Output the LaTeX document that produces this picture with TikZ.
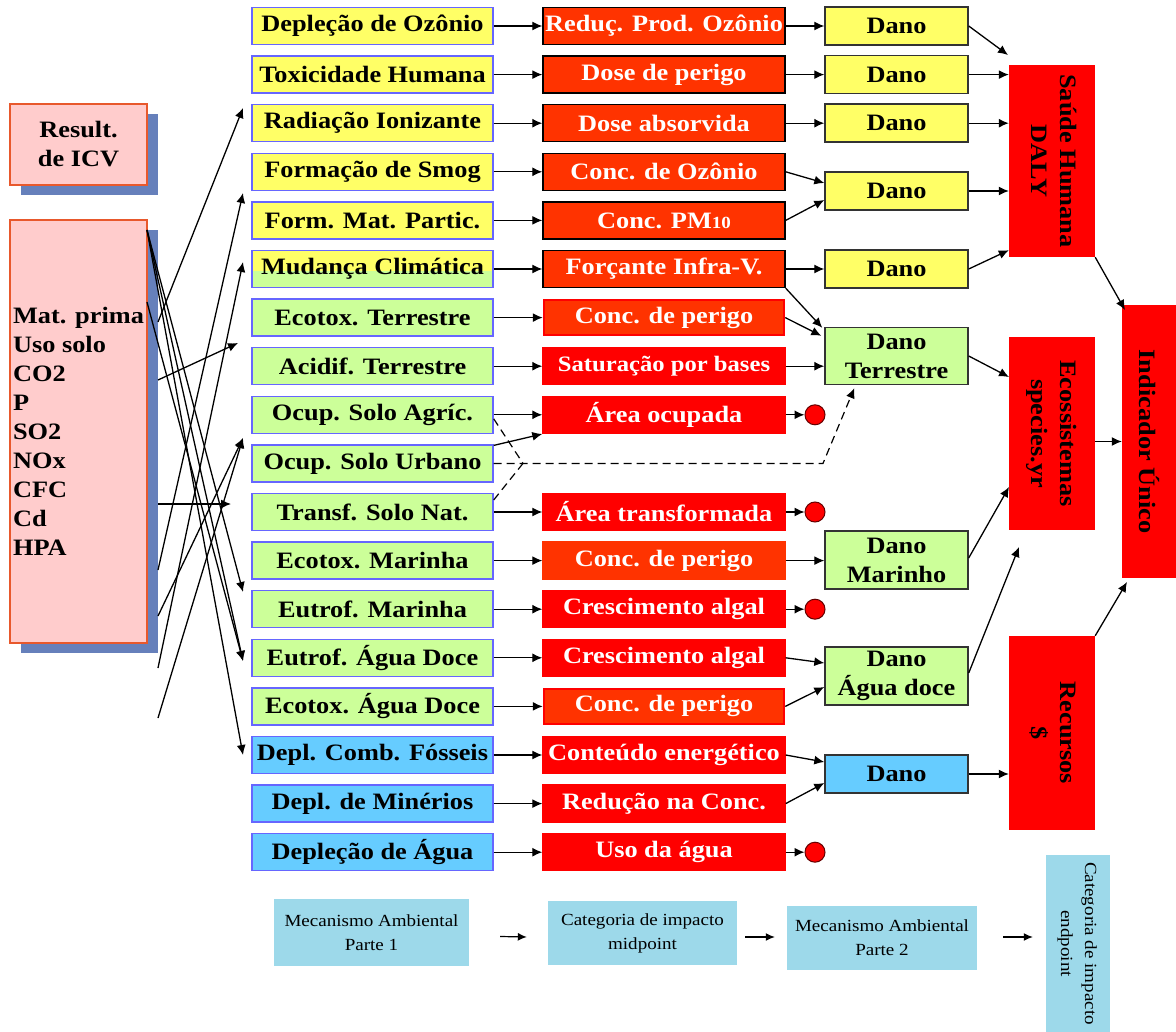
\documentclass[tikz,border=0pt]{standalone}
\usepackage{fontspec}
\setmainfont{Liberation Serif}[FakeStretch=1.12]
\usetikzlibrary{arrows.meta,calc,shadows}
\definecolor{yel}{HTML}{FFFF66}
\definecolor{grn}{HTML}{CCFF99}
\definecolor{blu}{HTML}{66CCFF}
\definecolor{bord}{HTML}{6666FF}
\definecolor{ored}{HTML}{FF3300}
\definecolor{pinkf}{HTML}{FFCCCC}
\definecolor{pinkb}{HTML}{E8582C}
\definecolor{shad}{HTML}{6680BB}
\definecolor{legc}{HTML}{9DD9EA}
\definecolor{dk}{HTML}{333333}
\begin{document}
\begin{tikzpicture}[x=1pt,y=-1pt,
  every node/.style={inner sep=0pt, font=\fontsize{23.5}{29}\selectfont\bfseries},
  cat/.style={draw=bord, line width=1.4pt, minimum width=241pt, minimum height=37pt},
  redA/.style={fill=ored, draw=black, line width=1.4pt, minimum width=242pt, minimum height=37pt, text=white},
  redB/.style={fill=red, draw=red, line width=1.4pt, minimum width=242pt, minimum height=37pt, text=white},
  redC/.style={fill=ored, draw=red, line width=2.5pt, minimum width=240pt, minimum height=35pt, text=white},
  redD/.style={fill=ored, draw=ored, line width=1.4pt, minimum width=242pt, minimum height=37pt, text=white},
  dano/.style={draw=dk, line width=1.4pt, minimum width=143pt, minimum height=38pt, align=center},
  big/.style={fill=red, minimum width=86pt},
  dot/.style={circle, fill=red, draw=black!60!red, line width=1pt, minimum size=20pt},
  leg/.style={fill=legc, align=center, font=\fontsize{17}{24}\selectfont\mdseries},
  arr/.style={-{Latex[length=10pt,width=9pt]}, line width=1.3pt},
  larr/.style={-{Latex[length=9pt,width=8pt]}, line width=1.2pt},
  dsh/.style={dash pattern=on 8pt off 5pt, line width=1.2pt},
  pinkbox/.style={draw=pinkb, fill=pinkf, line width=1.4pt, minimum width=137pt,
     drop shadow={fill=shad, opacity=1, shadow xshift=11pt, shadow yshift=-10pt}}
]
\useasboundingbox (0,0) rectangle (1176,1032);

% left boxes
\node[pinkbox, minimum height=81pt, align=center, font=\fontsize{23.5}{29}\selectfont\bfseries] (res) at (78.5,144.5) {Result.\\de ICV};
\node[pinkbox, minimum height=423pt, align=left, font=\fontsize{23.5}{29}\selectfont\bfseries] (mp) at (78.5,431.5) {Mat. prima\\Uso solo\\CO2\\P\\SO2\\NOx\\CFC\\Cd\\HPA};

% impact categories
\node[cat,fill=yel] (c0) at (372.5,26) {Depleção de Ozônio};
\node[cat,fill=yel] (c1) at (372.5,74.6) {Toxicidade Humana};
\node[cat,fill=yel] (c2) at (372.5,123.2) {Radiação Ionizante};
\node[cat,fill=yel] (c3) at (372.5,171.8) {Formação de Smog};
\node[cat,fill=yel] (c4) at (372.5,220.4) {Form. Mat. Partic.};
\node[cat,fill=grn,path picture={\fill[yel] (path picture bounding box.north west) rectangle ([yshift=-21pt]path picture bounding box.north east);}] (c5) at (372.5,269) {Mudança Climática};
\node[cat,fill=grn] (c6) at (372.5,317.6) {Ecotox. Terrestre};
\node[cat,fill=grn] (c7) at (372.5,366.2) {Acidif. Terrestre};
\node[cat,fill=grn] (c8) at (372.5,414.8) {Ocup. Solo Agríc.};
\node[cat,fill=grn] (c9) at (372.5,463.4) {Ocup. Solo Urbano};
\node[cat,fill=grn] (c10) at (372.5,512) {Transf. Solo Nat.};
\node[cat,fill=grn] (c11) at (372.5,560.6) {Ecotox. Marinha};
\node[cat,fill=grn] (c12) at (372.5,609.2) {Eutrof. Marinha};
\node[cat,fill=grn] (c13) at (372.5,657.8) {Eutrof. Água Doce};
\node[cat,fill=grn] (c14) at (372.5,706.4) {Ecotox. Água Doce};
\node[cat,fill=blu] (c15) at (372.5,755) {Depl. Comb. Fósseis};
\node[cat,fill=blu] (c16) at (372.5,803.6) {Depl. de Minérios};
\node[cat,fill=blu] (c17) at (372.5,852.2) {Depleção de Água};

% midpoint boxes
\node[redA] (r0) at (664,26) {Reduç. Prod. Ozônio};
\node[redA] (r1) at (664,74.6) {Dose de perigo};
\node[redA] (r2) at (664,123.2) {Dose absorvida};
\node[redA] (r3) at (664,171.8) {Conc. de Ozônio};
\node[redA] (r4) at (664,220.4) {Conc. PM{\fontsize{17}{18}\selectfont 10}};
\node[redA] (r5) at (664,269) {Forçante Infra-V.};
\node[redC] (r6) at (664,317.6) {Conc. de perigo};
\node[redB, font=\fontsize{22}{26}\selectfont\bfseries] (r7) at (664,366.2) {Saturação por bases};
\node[redB] (r8) at (664,414.8) {Área ocupada};
\node[redB] (r10) at (664,512) {Área transformada};
\node[redD] (r11) at (664,560.6) {Conc. de perigo};
\node[redB] (r12) at (664,609.2) {Crescimento algal};
\node[redB] (r13) at (664,657.8) {Crescimento algal};
\node[redC] (r14) at (664,706.4) {Conc. de perigo};
\node[redB] (r15) at (664,755) {Conteúdo energético};
\node[redB] (r16) at (664,803.6) {Redução na Conc.};
\node[redB] (r17) at (664,852.2) {Uso da água};

% dots
\node[dot] (o8) at (815,414.8) {};
\node[dot] (o10) at (815,512) {};
\node[dot] (o12) at (815,609.2) {};
\node[dot] (o17) at (815,852.2) {};

% damage boxes
\node[dano,fill=yel] (d0) at (896.5,26) {Dano};
\node[dano,fill=yel] (d1) at (896.5,74.6) {Dano};
\node[dano,fill=yel] (d2) at (896.5,123.2) {Dano};
\node[dano,fill=yel] (d4) at (896.5,191) {Dano};
\node[dano,fill=yel] (d5) at (896.5,269) {Dano};
\node[dano,fill=grn,minimum height=57pt] (dT) at (896.5,356) {Dano\\Terrestre};
\node[dano,fill=grn,minimum height=58pt] (dM) at (896.5,560) {Dano\\Marinho};
\node[dano,fill=grn,minimum height=58pt] (dA) at (896.5,676) {Dano\\Água doce};
\node[dano,fill=blu] (dR) at (896.5,774) {Dano};

% endpoint boxes
\node[big,minimum height=192pt] (sh) at (1052,161) {\rotatebox{-90}{\begin{tabular}{@{}c@{}}Saúde Humana\\DALY\end{tabular}}};
\node[big,minimum height=193pt] (ec) at (1052,433.5) {\rotatebox{-90}{\begin{tabular}{@{}c@{}}Ecossistemas\\species.yr\end{tabular}}};
\node[big,minimum height=194pt] (re) at (1052,733) {\rotatebox{-90}{\begin{tabular}{@{}c@{}}Recursos\\\$\end{tabular}}};
\node[fill=red,minimum width=54pt,minimum height=273pt] (iu) at (1149,441.5) {\rotatebox{-90}{Indicador Único}};

% legend
\node[leg,minimum width=195pt,minimum height=67pt] (l1) at (371.5,932.5) {Mecanismo Ambiental\\Parte 1};
\node[leg,minimum width=189pt,minimum height=64pt] (l2) at (642.5,933) {Categoria de impacto\\midpoint};
\node[leg,minimum width=190pt,minimum height=64pt] (l3) at (882,938) {Mecanismo Ambiental\\Parte 2};
\node[leg,minimum width=64pt,minimum height=177pt] (l4) at (1078,943.5) {\rotatebox{-90}{\begin{tabular}{@{}c@{}}Categoria de impacto\\endpoint\end{tabular}}};
\draw[larr] ($(l1.east)+(31,4)$) -- ($(l2.west)+(-21,4)$);
\draw[larr] ($(l2.east)+(8,4)$) -- ($(l3.west)+(-12,-1)$);
\draw[larr] ($(l3.east)+(26,-1)$) -- ($(l4.west)+(-13,-6.5)$);

% inventory to categories
\coordinate (ta) at (147,230);
\coordinate (tb) at (147,302);
\coordinate (t1) at (158,322);
\coordinate (t2) at (158,380);
\coordinate (t3) at (158,504);
\coordinate (t4) at (158,570);
\coordinate (t5) at (158,616);
\coordinate (t6) at (158,668);
\coordinate (t7) at (158,718);
\coordinate (h1) at (243,108);
\coordinate (h2) at (243,193);
\coordinate (h3) at (243,262);
\coordinate (h4) at (238,343);
\coordinate (h5) at (243,438);
\coordinate (h6) at (231,504);
\coordinate (h7) at (243,592);
\coordinate (h8) at (243,661);
\coordinate (h9) at (243,755);
\draw[arr] (t1) -- (h1);
\draw[arr] (t2) -- (h4);
\draw[arr] (t3) -- (h6);
\draw[arr] (t4) -- (h2);
\draw[arr] (t5) -- (h5);
\draw[arr] (t6) -- (h3);
\draw[arr] (t7) -- (h5);
\draw[arr] (ta) -- (h7);
\draw[arr] (ta) -- (h8);
\draw[arr] (tb) -- (h8);
\draw[arr] (ta) -- (h9);

% categories to midpoints
\foreach \i in {0,...,8,10,11,...,17} {\draw[arr] (c\i.east) -- (r\i.west);}
\draw[arr] ([yshift=18pt]c9.east) -- (r8.south west);
\coordinate (J) at (523,463.4);
\coordinate (K) at (823,463.4);
\draw[dsh] ([yshift=-4pt]c8.east) -- (J);
\draw[dsh] ([yshift=12pt]c10.east) -- (J);
\draw[dsh,-{Latex[length=10pt,width=9pt]}] (c9.east) -- (J) -- (K) -- ([xshift=30pt,yshift=-3pt]dT.south west);

% midpoints to damage
\draw[arr] (r0.east) -- (d0.west);
\draw[arr] (r1.east) -- (d1.west);
\draw[arr] (r2.east) -- (d2.west);
\draw[arr] (r3.east) -- ([yshift=8pt]d4.west);
\draw[arr] (r4.east) -- ([yshift=-9pt]d4.west);
\draw[arr] (r5.east) -- (d5.west);
\draw[arr] (r5.south east) -- ([xshift=-2pt,yshift=-1pt]dT.north west);
\draw[arr] (r6.east) -- ([xshift=-3pt,yshift=-9pt]dT.north west);
\draw[arr] (r7.east) -- (r7.east -| dT.west);
\draw[arr] (r8.east) -- (o8.west);
\draw[arr] (r10.east) -- (o10.west);
\draw[arr] (r11.east) -- (r11.east -| dM.west);
\draw[arr] (r12.east) -- (o12.west);
\draw[arr] (r13.east) -- ([yshift=13pt]dA.west);
\draw[arr] (r14.east) -- ([yshift=-11pt]dA.west);
\draw[arr] (r15.east) -- ([yshift=12pt]dR.west);
\draw[arr] (r16.east) -- ([yshift=-9pt]dR.west);
\draw[arr] (r17.east) -- (o17.west);

% damage to endpoints
\coordinate (e1) at (1008,55);
\coordinate (eT) at (1009,377);
\coordinate (eM) at (1009,487);
\coordinate (eA) at (1019,547);
\coordinate (eS) at (1125,310);
\coordinate (eR) at (1127,582);
\draw[arr] (d0.east) -- (e1);
\draw[arr] (d1.east) -- (d1.east -| sh.west);
\draw[arr] (d2.east) -- (d2.east -| sh.west);
\draw[arr] (d4.east) -- (d4.east -| sh.west);
\draw[arr] (d5.east) -- ([yshift=7pt]sh.south west);
\draw[arr] (dT.east) -- (eT);
\draw[arr] ([yshift=2pt]dM.east) -- (eM);
\draw[arr] ([yshift=3pt]dA.east) -- (eA);
\draw[arr] (dR.east) -- (dR.east -| re.west);
\draw[arr] (sh.south east) -- (eS);
\draw[arr] ([yshift=-8pt]ec.east) -- ([yshift=-8pt]ec.east -| iu.west);
\draw[arr] (re.north east) -- (eR);
\end{tikzpicture}
\end{document}
